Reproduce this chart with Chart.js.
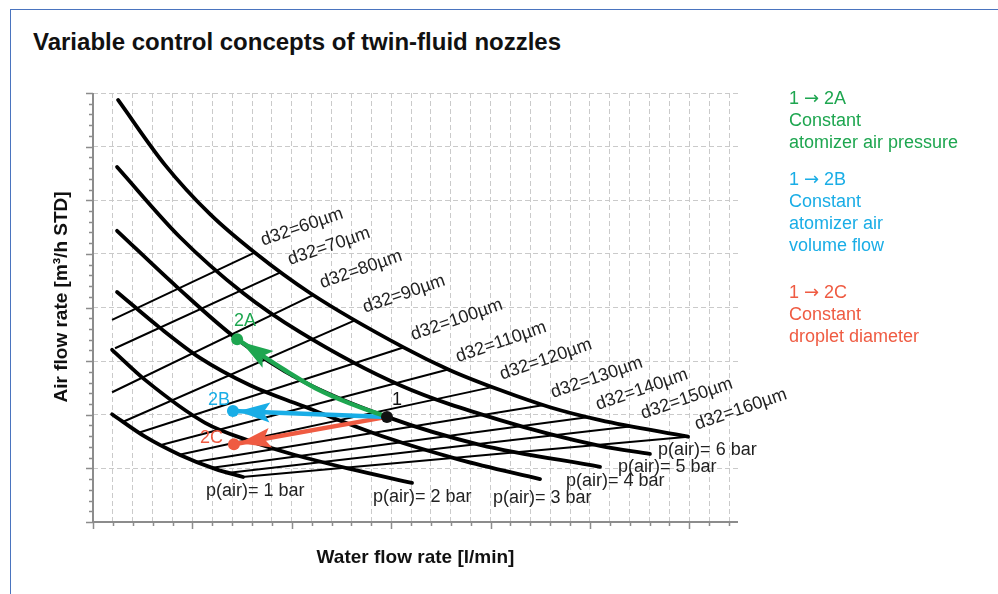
<!DOCTYPE html>
<html lang="en">
<head>
<meta charset="utf-8">
<title>Variable control concepts of twin-fluid nozzles</title>
<script src="https://cdn.jsdelivr.net/npm/chart.js@4.4.1/dist/chart.umd.min.js"></script>
<style>
  html, body { margin: 0; padding: 0; background: #fff; }
  body { position: relative; width: 998px; height: 594px; overflow: hidden; font-family: "Liberation Sans", Arial, sans-serif; }
  .frame { position: absolute; left: 10px; top: 9px; width: 1100px; height: 700px; border: 1.5px solid #4a74bf; }
  h1 { position: absolute; left: 33px; top: 28px; margin: 0; font-size: 24px; line-height: 28px; font-weight: bold; color: #111; }
  canvas { position: absolute; left: 0; top: 0; }
  .note { position: absolute; left: 789px; font-size: 18px; line-height: 22px; white-space: nowrap; }
  .note .arr { font-family: "DejaVu Sans", sans-serif; font-size: 18px; }
  .green { color: #1ea650; top: 87px; }
  .blue { color: #19ade6; top: 168px; }
  .red { color: #ef5b42; top: 281px; }
</style>
</head>
<body>
<div class="frame"></div>
<h1>Variable control concepts of twin-fluid nozzles</h1>
<canvas id="nozzleChart" width="998" height="594"></canvas>
<div class="note green">1 <span class="arr">→</span> 2A<br>Constant<br>atomizer air pressure</div>
<div class="note blue">1 <span class="arr">→</span> 2B<br>Constant<br>atomizer air<br>volume flow</div>
<div class="note red">1 <span class="arr">→</span> 2C<br>Constant<br>droplet diameter</div>

<script>
// values, in grid units (no tick labels on the original)
const pressureBar = [1, 2, 3, 4, 5, 6];
const water1Bar = [0.96, 2.62, 4.38, 6.14, 7.55];
const air1Bar   = [2.01, 1.59, 1.25, 0.99, 0.84];
const water2Bar = [0.96, 2.62, 5.64, 7.90, 10.16, 12.93, 16.05];
const air2Bar   = [3.21, 2.65, 1.85, 1.51, 1.25, 0.99, 0.73];
const water3Bar = [1.21, 3.37, 5.38, 7.90, 10.42, 14.79, 18.47, 22.49];
const air3Bar   = [4.29, 3.62, 3.06, 2.55, 2.18, 1.57, 1.16, 0.80];
const water4Bar = [1.21, 4.23, 7.25, 10.42, 14.79, 19.47, 25.51];
const air4Bar   = [5.43, 4.38, 3.41, 2.65, 1.96, 1.44, 1.03];
const water5Bar = [1.21, 4.38, 7.55, 10.42, 15.45, 20.48, 25.51, 28.02];
const air5Bar   = [6.62, 5.31, 4.27, 3.54, 2.55, 1.90, 1.42, 1.27];
const water6Bar = [1.26, 3.62, 5.89, 8.15, 10.92, 15.60, 17.96, 20.48, 22.99, 25.51, 29.94];
const air6Bar   = [7.87, 6.66, 5.74, 5.02, 4.27, 3.26, 2.83, 2.46, 2.14, 1.90, 1.59];

// lines of constant droplet diameter d32
const dropletMicron = [60, 70, 80, 90, 100, 110, 120, 130, 140, 150, 160];
const d32WaterFrom = [0.96, 1.11, 0.96, 1.46, 2.26, 3.47, 4.28, 5.13, 5.99, 6.64, 7.50];
const d32AirFrom   = [3.77, 3.24, 2.42, 1.86, 1.66, 1.44, 1.25, 1.12, 1.01, 0.91, 0.84];
const d32WaterTo   = [8.10, 9.46, 11.07, 13.23, 15.65, 17.91, 20.13, 22.69, 24.96, 27.22, 29.94];
const d32AirTo     = [5.02, 4.66, 4.23, 3.77, 3.26, 2.85, 2.52, 2.18, 1.96, 1.79, 1.59];

// operating states and the paths between them
const stateNames = ["1", "2A", "2B", "2C"];
const stateWater = [14.79, 7.25, 7.04, 7.09];
const stateAir   = [1.96, 3.41, 2.07, 1.45];
const pathAWater = [14.79, 12.93, 11.17, 9.66, 8.40, 7.25];
const pathAAir   = [1.96, 2.21, 2.50, 2.83, 3.13, 3.41];
const pathBWater = [14.79, 7.04];
const pathBAir   = [1.96, 2.07];
const pathCWater = [14.79, 7.09];
const pathCAir   = [1.96, 1.45];

const GREEN = "#1ea650", BLUE = "#19ade6", RED = "#ef5b42";
const FONT = '"Liberation Sans", Arial, sans-serif';

const toPoints = (xs, ys) => xs.map((x, i) => ({ x: x, y: ys[i] }));

const pressureWater = [water1Bar, water2Bar, water3Bar, water4Bar, water5Bar, water6Bar];
const pressureAir = [air1Bar, air2Bar, air3Bar, air4Bar, air5Bar, air6Bar];

const datasets = [];

datasets.push({
  label: "states",
  data: toPoints(stateWater, stateAir),
  showLine: false,
  pointRadius: 6,
  pointBackgroundColor: ["#111", GREEN, BLUE, RED],
  pointBorderWidth: 0
});

[[pathAWater, pathAAir, GREEN, 0.35], [pathBWater, pathBAir, BLUE, 0], [pathCWater, pathCAir, RED, 0]]
  .forEach(function (p) {
    datasets.push({
      label: "path",
      data: toPoints(p[0], p[1]),
      showLine: true,
      borderColor: p[2],
      borderWidth: 4.5,
      tension: p[3],
      pointRadius: 0,
      arrowColor: p[2]
    });
  });

dropletMicron.forEach(function (d, i) {
  datasets.push({
    label: "d32=" + d + "µm",
    data: [{ x: d32WaterFrom[i], y: d32AirFrom[i] }, { x: d32WaterTo[i], y: d32AirTo[i] }],
    showLine: true,
    borderColor: "#000",
    borderWidth: 2,
    pointRadius: 0
  });
});

pressureBar.forEach(function (p, i) {
  datasets.push({
    label: "p(air)= " + p + " bar",
    data: toPoints(pressureWater[i], pressureAir[i]),
    showLine: true,
    borderColor: "#000",
    borderWidth: 3.8,
    borderCapStyle: "round",
    cubicInterpolationMode: "monotone",
    pointRadius: 0
  });
});

// label offsets in pixels (style only)
const pLabelShift = [[-37, 14], [-39, 14], [-47, 19], [-34, 14], [-32, 13], [-30, 13]];
const stateLabelStyle = [
  { dx: 10, dy: -17, align: "center", color: "#111" },
  { dx: 8, dy: -18, align: "center", color: GREEN },
  { dx: -3, dy: -11, align: "right", color: BLUE },
  { dx: -11, dy: -6, align: "right", color: RED }
];

const overlay = {
  id: "overlay",
  afterDatasetDraw(chart, args) {
    const ds = chart.data.datasets[args.index];
    if (!ds.arrowColor) return;
    const pts = args.meta.data;
    const end = pts[pts.length - 1];
    const prev = pts[pts.length - 2];
    const dx = end.x - prev.x, dy = end.y - prev.y;
    const len = Math.hypot(dx, dy);
    const ux = dx / len, uy = dy / len;
    const tipX = end.x - ux * 5, tipY = end.y - uy * 5;
    const L = 32, W = 10;
    const bx = tipX - ux * L, by = tipY - uy * L;
    const ctx = chart.ctx;
    ctx.save();
    ctx.fillStyle = ds.arrowColor;
    ctx.beginPath();
    ctx.moveTo(tipX, tipY);
    ctx.lineTo(bx - uy * W, by + ux * W);
    ctx.lineTo(tipX - ux * L * 0.8, tipY - uy * L * 0.8);
    ctx.lineTo(bx + uy * W, by - ux * W);
    ctx.closePath();
    ctx.fill();
    ctx.restore();
  },
  afterDatasetsDraw(chart) {
    const ctx = chart.ctx;
    const xs = chart.scales.x, ys = chart.scales.y;
    const area = chart.chartArea;
    ctx.save();

    // axes
    ctx.strokeStyle = "#8c8c8c";
    ctx.lineWidth = 2;
    ctx.beginPath();
    ctx.moveTo(area.left, area.top);
    ctx.lineTo(area.left, area.bottom);
    ctx.lineTo(area.right, area.bottom);
    ctx.stroke();

    // tick marks
    ctx.lineWidth = 1.5;
    ctx.beginPath();
    for (let v = 0; v <= 32; v++) {
      const px = Math.round(xs.getPixelForValue(v)) + 0.5;
      const len = v % 5 === 0 ? 7 : 4;
      ctx.moveTo(px, area.bottom);
      ctx.lineTo(px, area.bottom + len);
    }
    for (let k = 0; k <= 40; k++) {
      const py = Math.round(ys.getPixelForValue(k / 5)) + 0.5;
      const len = k % 5 === 0 ? 7 : 4;
      ctx.moveTo(area.left, py);
      ctx.lineTo(area.left - len, py);
    }
    ctx.stroke();

    // pressure labels
    ctx.font = "18px " + FONT;
    ctx.fillStyle = "#222";
    ctx.textAlign = "left";
    ctx.textBaseline = "middle";
    pressureBar.forEach(function (p, i) {
      const w = pressureWater[i], a = pressureAir[i];
      const px = xs.getPixelForValue(w[w.length - 1]);
      const py = ys.getPixelForValue(a[a.length - 1]);
      ctx.fillText("p(air)= " + p + " bar", px + pLabelShift[i][0], py + pLabelShift[i][1]);
    });

    // droplet size labels
    ctx.textBaseline = "alphabetic";
    dropletMicron.forEach(function (d, i) {
      const px = xs.getPixelForValue(d32WaterTo[i]);
      const py = ys.getPixelForValue(d32AirTo[i]);
      ctx.save();
      ctx.translate(px + 9, py - 7);
      ctx.rotate(-19 * Math.PI / 180);
      ctx.fillText("d32=" + d + "µm", 0, 0);
      ctx.restore();
    });

    // state labels
    ctx.font = "18px " + FONT;
    ctx.textBaseline = "middle";
    stateNames.forEach(function (n, i) {
      const st = stateLabelStyle[i];
      ctx.fillStyle = st.color;
      ctx.textAlign = st.align;
      ctx.fillText(n, xs.getPixelForValue(stateWater[i]) + st.dx, ys.getPixelForValue(stateAir[i]) + st.dy);
    });
    ctx.restore();
  }
};

document.addEventListener("DOMContentLoaded", function () {
  const ctx = document.getElementById("nozzleChart").getContext("2d");
  Chart.defaults.font.family = FONT;

  new Chart(ctx, {
    type: "scatter",
    data: { datasets: datasets },
    options: {
      responsive: false,
      animation: false,
      devicePixelRatio: 1,
      events: [],
      layout: { padding: { left: 0, top: 93, right: 260, bottom: 0 } },
      plugins: {
        legend: { display: false },
        tooltip: { enabled: false }
      },
      scales: {
        x: {
          type: "linear",
          min: 0,
          max: 32.45,
          ticks: { display: false, stepSize: 1, includeBounds: false },
          grid: { color: "#cacaca", lineWidth: 1, drawTicks: false },
          border: { display: false, dash: [5, 3] },
          title: {
            display: true,
            text: "Water flow rate [l/min]",
            color: "#111",
            font: { size: 19, weight: "bold" },
            padding: { top: 0, bottom: 25 }
          },
          afterFit: function (scale) { scale.height = 72; }
        },
        y: {
          type: "linear",
          min: 0,
          max: 8,
          ticks: { display: false, stepSize: 1 },
          grid: { color: "#cacaca", lineWidth: 1, drawTicks: false },
          border: { display: false, dash: [5, 3] },
          title: {
            display: true,
            // leading spaces nudge the centred title up to where the original sits
            text: "    Air flow rate [m³/h STD]",
            color: "#111",
            font: { size: 19, weight: "bold" },
            padding: { top: 50, bottom: 0 }
          },
          afterFit: function (scale) { scale.width = 93; }
        }
      }
    },
    plugins: [overlay]
  });
});
</script>
</body>
</html>
